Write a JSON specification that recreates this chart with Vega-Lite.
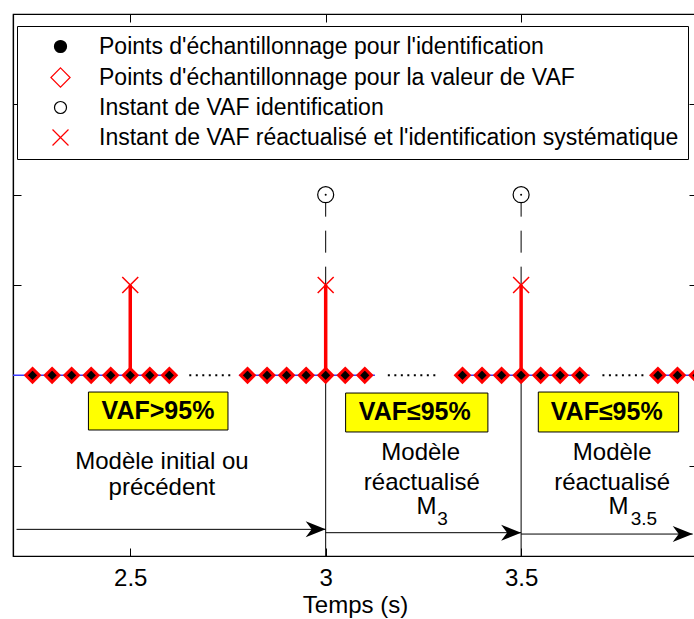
{
  "$schema": "https://vega.github.io/schema/vega-lite/v6.json",
  "width": 684,
  "height": 542,
  "autosize": {"type": "none"},
  "padding": {"left": 13, "top": 14, "right": 0, "bottom": 63},
  "background": "white",
  "config": {
    "font": "Liberation Sans",
    "view": {"stroke": "black", "strokeWidth": 1.2},
    "axis": {"domainColor": "black", "tickColor": "black", "labelColor": "black", "titleColor": "black", "grid": false, "labelFont": "Liberation Sans", "titleFont": "Liberation Sans", "labelFontSize": 24, "titleFontSize": 24, "titleFontWeight": "normal", "domainWidth": 1.2, "tickWidth": 1},
    "legend": {
      "orient": "none", "legendX": 4, "legendY": 12, "padding": 9,
      "strokeColor": "black", "fillColor": "white",
      "symbolSize": 144, "symbolOffset": 23, "labelOffset": 27, "symbolStrokeWidth": 1.2,
      "labelFont": "Liberation Sans", "labelFontSize": 23, "labelColor": "black", "labelLimit": 0,
      "rowPadding": 6
    }
  },
  "datasets": {
    "blue": [
      {"t0": 2.2, "t1": 2.614}, {"t0": 2.778, "t1": 3.126}, {"t0": 3.332, "t1": 3.675}, {"t0": 3.836, "t1": 3.95}
    ],
    "dots": [
      {"t0": 2.651, "t1": 2.765}, {"t0": 3.159, "t1": 3.282}, {"t0": 3.708, "t1": 3.819}
    ],
    "pts": [
      {"t": 2.25, "y": 0, "serie": "Points d'échantillonnage pour l'identification"},
      {"t": 2.30, "y": 0, "serie": "Points d'échantillonnage pour l'identification"},
      {"t": 2.35, "y": 0, "serie": "Points d'échantillonnage pour l'identification"},
      {"t": 2.40, "y": 0, "serie": "Points d'échantillonnage pour l'identification"},
      {"t": 2.45, "y": 0, "serie": "Points d'échantillonnage pour l'identification"},
      {"t": 2.50, "y": 0, "serie": "Points d'échantillonnage pour l'identification"},
      {"t": 2.55, "y": 0, "serie": "Points d'échantillonnage pour l'identification"},
      {"t": 2.60, "y": 0, "serie": "Points d'échantillonnage pour l'identification"},
      {"t": 2.80, "y": 0, "serie": "Points d'échantillonnage pour l'identification"},
      {"t": 2.85, "y": 0, "serie": "Points d'échantillonnage pour l'identification"},
      {"t": 2.90, "y": 0, "serie": "Points d'échantillonnage pour l'identification"},
      {"t": 2.95, "y": 0, "serie": "Points d'échantillonnage pour l'identification"},
      {"t": 3.00, "y": 0, "serie": "Points d'échantillonnage pour l'identification"},
      {"t": 3.05, "y": 0, "serie": "Points d'échantillonnage pour l'identification"},
      {"t": 3.10, "y": 0, "serie": "Points d'échantillonnage pour l'identification"},
      {"t": 3.35, "y": 0, "serie": "Points d'échantillonnage pour l'identification"},
      {"t": 3.40, "y": 0, "serie": "Points d'échantillonnage pour l'identification"},
      {"t": 3.45, "y": 0, "serie": "Points d'échantillonnage pour l'identification"},
      {"t": 3.50, "y": 0, "serie": "Points d'échantillonnage pour l'identification"},
      {"t": 3.55, "y": 0, "serie": "Points d'échantillonnage pour l'identification"},
      {"t": 3.60, "y": 0, "serie": "Points d'échantillonnage pour l'identification"},
      {"t": 3.65, "y": 0, "serie": "Points d'échantillonnage pour l'identification"},
      {"t": 3.85, "y": 0, "serie": "Points d'échantillonnage pour l'identification"},
      {"t": 3.90, "y": 0, "serie": "Points d'échantillonnage pour l'identification"},
      {"t": 3.95, "y": 0, "serie": "Points d'échantillonnage pour l'identification"},
      {"t": 2.25, "y": 0, "serie": "Points d'échantillonnage pour la valeur de VAF"},
      {"t": 2.30, "y": 0, "serie": "Points d'échantillonnage pour la valeur de VAF"},
      {"t": 2.35, "y": 0, "serie": "Points d'échantillonnage pour la valeur de VAF"},
      {"t": 2.40, "y": 0, "serie": "Points d'échantillonnage pour la valeur de VAF"},
      {"t": 2.45, "y": 0, "serie": "Points d'échantillonnage pour la valeur de VAF"},
      {"t": 2.50, "y": 0, "serie": "Points d'échantillonnage pour la valeur de VAF"},
      {"t": 2.55, "y": 0, "serie": "Points d'échantillonnage pour la valeur de VAF"},
      {"t": 2.60, "y": 0, "serie": "Points d'échantillonnage pour la valeur de VAF"},
      {"t": 2.80, "y": 0, "serie": "Points d'échantillonnage pour la valeur de VAF"},
      {"t": 2.85, "y": 0, "serie": "Points d'échantillonnage pour la valeur de VAF"},
      {"t": 2.90, "y": 0, "serie": "Points d'échantillonnage pour la valeur de VAF"},
      {"t": 2.95, "y": 0, "serie": "Points d'échantillonnage pour la valeur de VAF"},
      {"t": 3.00, "y": 0, "serie": "Points d'échantillonnage pour la valeur de VAF"},
      {"t": 3.05, "y": 0, "serie": "Points d'échantillonnage pour la valeur de VAF"},
      {"t": 3.10, "y": 0, "serie": "Points d'échantillonnage pour la valeur de VAF"},
      {"t": 3.35, "y": 0, "serie": "Points d'échantillonnage pour la valeur de VAF"},
      {"t": 3.40, "y": 0, "serie": "Points d'échantillonnage pour la valeur de VAF"},
      {"t": 3.45, "y": 0, "serie": "Points d'échantillonnage pour la valeur de VAF"},
      {"t": 3.50, "y": 0, "serie": "Points d'échantillonnage pour la valeur de VAF"},
      {"t": 3.55, "y": 0, "serie": "Points d'échantillonnage pour la valeur de VAF"},
      {"t": 3.60, "y": 0, "serie": "Points d'échantillonnage pour la valeur de VAF"},
      {"t": 3.65, "y": 0, "serie": "Points d'échantillonnage pour la valeur de VAF"},
      {"t": 3.85, "y": 0, "serie": "Points d'échantillonnage pour la valeur de VAF"},
      {"t": 3.90, "y": 0, "serie": "Points d'échantillonnage pour la valeur de VAF"},
      {"t": 3.95, "y": 0, "serie": "Points d'échantillonnage pour la valeur de VAF"},
      {"t": 3.0, "y": 2, "serie": "Instant de VAF identification"},
      {"t": 3.5, "y": 2, "serie": "Instant de VAF identification"},
      {"t": 2.5, "y": 1, "serie": "Instant de VAF réactualisé et l'identification systématique"},
      {"t": 3.0, "y": 1, "serie": "Instant de VAF réactualisé et l'identification systématique"},
      {"t": 3.5, "y": 1, "serie": "Instant de VAF réactualisé et l'identification systématique"}
    ],
    "boxes": [
      {"x0": 2.393, "x1": 2.750, "y0": -0.185, "y1": -0.605, "tc": 2.571, "yc": -0.40, "label": "VAF>95%"},
      {"x0": 3.051, "x1": 3.415, "y0": -0.196, "y1": -0.627, "tc": 3.228, "yc": -0.41, "label": "VAF≤95%"},
      {"x0": 3.544, "x1": 3.903, "y0": -0.185, "y1": -0.627, "tc": 3.719, "yc": -0.41, "label": "VAF≤95%"}
    ],
    "notes": [
      {"t": 2.581, "y": -0.957, "label": "Modèle initial ou", "kind": "main"},
      {"t": 2.581, "y": -1.248, "label": "précédent", "kind": "main"},
      {"t": 3.243, "y": -0.86, "label": "Modèle", "kind": "main"},
      {"t": 3.246, "y": -1.192, "label": "réactualisé", "kind": "main"},
      {"t": 3.258, "y": -1.457, "label": "M", "kind": "main"},
      {"t": 3.733, "y": -0.86, "label": "Modèle", "kind": "main"},
      {"t": 3.733, "y": -1.192, "label": "réactualisé", "kind": "main"},
      {"t": 3.749, "y": -1.457, "label": "M", "kind": "main"},
      {"t": 3.299, "y": -1.59, "label": "3", "kind": "sub"},
      {"t": 3.814, "y": -1.59, "label": "3.5", "kind": "sub"}
    ],
    "arrows": [
      {"t0": 2.209, "t1": 3.0, "y": -1.705},
      {"t0": 3.0, "t1": 3.5, "y": -1.742},
      {"t0": 3.5, "t1": 3.939, "y": -1.757}
    ]
  },
  "layer": [
    {
      "data": {"name": "blue"},
      "mark": {"type": "rule", "color": "#3b3bff", "strokeWidth": 1.5},
      "encoding": {
        "x": {"field": "t0", "type": "quantitative", "scale": {"domain": [2.2, 3.95], "nice": false, "zero": false},
              "axis": {"orient": "bottom", "values": [2.5, 3, 3.5], "format": "~g", "tickSize": -8, "labelPadding": 18, "title": "Temps (s)", "titlePadding": 3}},
        "x2": {"field": "t1"},
        "y": {"datum": 0, "type": "quantitative", "scale": {"domain": [-2, 4], "nice": false, "zero": false},
              "axis": {"orient": "left", "values": [-2, -1, 0, 1, 2, 3, 4], "labels": false, "tickSize": -8, "title": null}}
      }
    },
    {
      "data": {"name": "dots"},
      "mark": {"type": "rule", "color": "black", "strokeWidth": 2, "strokeDash": [2, 4.5]},
      "encoding": {
        "x": {"field": "t0", "type": "quantitative",
              "axis": {"orient": "top", "values": [2.5, 3, 3.5], "labels": false, "tickSize": -8, "title": null}},
        "x2": {"field": "t1"},
        "y": {"datum": 0, "type": "quantitative",
              "axis": {"orient": "right", "values": [-2, -1, 0, 1, 2, 3, 4], "labels": false, "tickSize": -8, "title": null}}
      }
    },
    {
      "data": {"name": "pts"},
      "transform": [{"filter": "datum.serie == 'Instant de VAF identification'"}],
      "mark": {"type": "rule", "color": "black", "strokeWidth": 1, "strokeDash": [22, 14]},
      "encoding": {
        "x": {"field": "t", "type": "quantitative", "axis": null},
        "y": {"field": "y", "type": "quantitative", "axis": null},
        "y2": {"datum": 0}
      }
    },
    {
      "data": {"name": "pts"},
      "transform": [{"filter": "datum.serie == 'Instant de VAF identification'"}],
      "mark": {"type": "rule", "color": "black", "strokeWidth": 1},
      "encoding": {
        "x": {"field": "t", "type": "quantitative", "axis": null},
        "y": {"datum": 0, "type": "quantitative", "axis": null},
        "y2": {"datum": -2}
      }
    },
    {
      "data": {"name": "pts"},
      "transform": [{"filter": "datum.serie == 'Instant de VAF réactualisé et l\\'identification systématique'"}],
      "mark": {"type": "rule", "color": "red", "strokeWidth": 3.5},
      "encoding": {
        "x": {"field": "t", "type": "quantitative", "axis": null},
        "y": {"field": "y", "type": "quantitative", "axis": null},
        "y2": {"datum": 0}
      }
    },
    {
      "data": {"name": "boxes"},
      "mark": {"type": "rect", "fill": "#ffff00", "stroke": "black", "strokeWidth": 1},
      "encoding": {
        "x": {"field": "x0", "type": "quantitative", "axis": null},
        "x2": {"field": "x1"},
        "y": {"field": "y0", "type": "quantitative", "axis": null},
        "y2": {"field": "y1"}
      }
    },
    {
      "data": {"name": "boxes"},
      "mark": {"type": "text", "font": "Liberation Sans", "fontWeight": "bold", "fontSize": 25, "color": "black", "baseline": "middle", "align": "center"},
      "encoding": {
        "x": {"field": "tc", "type": "quantitative", "axis": null},
        "y": {"field": "yc", "type": "quantitative", "axis": null},
        "text": {"field": "label"}
      }
    },
    {
      "data": {"name": "notes"},
      "transform": [{"filter": "datum.kind == 'main'"}],
      "mark": {"type": "text", "font": "Liberation Sans", "fontSize": 24, "color": "black", "baseline": "middle", "align": "center"},
      "encoding": {
        "x": {"field": "t", "type": "quantitative", "axis": null},
        "y": {"field": "y", "type": "quantitative", "axis": null},
        "text": {"field": "label"}
      }
    },
    {
      "data": {"name": "notes"},
      "transform": [{"filter": "datum.kind == 'sub'"}],
      "mark": {"type": "text", "font": "Liberation Sans", "fontSize": 19, "color": "black", "baseline": "middle", "align": "center"},
      "encoding": {
        "x": {"field": "t", "type": "quantitative", "axis": null},
        "y": {"field": "y", "type": "quantitative", "axis": null},
        "text": {"field": "label"}
      }
    },
    {
      "data": {"name": "arrows"},
      "mark": {"type": "rule", "color": "black", "strokeWidth": 1},
      "encoding": {
        "x": {"field": "t0", "type": "quantitative", "axis": null},
        "x2": {"field": "t1"},
        "y": {"field": "y", "type": "quantitative", "axis": null}
      }
    },
    {
      "data": {"name": "arrows"},
      "mark": {"type": "point", "shape": "M0,0L-2,-0.8L-1.4,0L-2,0.8Z", "filled": true, "color": "black", "size": 400, "opacity": 1},
      "encoding": {
        "x": {"field": "t1", "type": "quantitative", "axis": null},
        "y": {"field": "y", "type": "quantitative", "axis": null}
      }
    },
    {
      "data": {"name": "pts"},
      "transform": [{"filter": "datum.serie == 'Points d\\'échantillonnage pour l\\'identification'"}],
      "mark": {"type": "point", "opacity": 1, "size": 100, "strokeWidth": 0.5},
      "encoding": {
        "x": {"field": "t", "type": "quantitative", "axis": null},
        "y": {"field": "y", "type": "quantitative", "axis": null},
        "shape": {"field": "serie", "type": "nominal", "title": null,
                  "legend": {"orient": "none", "legendX": 4, "legendY": 12, "padding": 9, "strokeColor": "black", "fillColor": "white", "symbolSize": 144, "symbolOffset": 23, "labelOffset": 27, "symbolStrokeWidth": 1.2, "labelFontSize": 23, "labelLimit": 0, "rowPadding": 6},
                  "scale": {"domain": ["Points d'échantillonnage pour l'identification", "Points d'échantillonnage pour la valeur de VAF", "Instant de VAF identification", "Instant de VAF réactualisé et l'identification systématique"],
                            "range": ["circle", "M0,-1.6L1.6,0L0,1.6L-1.6,0Z", "circle", "M-1.33,-1.33L1.33,1.33M-1.33,1.33L1.33,-1.33"]}},
        "fill": {"field": "serie", "type": "nominal", "title": null,
                 "scale": {"domain": ["Points d'échantillonnage pour l'identification", "Points d'échantillonnage pour la valeur de VAF", "Instant de VAF identification", "Instant de VAF réactualisé et l'identification systématique"],
                           "range": ["black", "transparent", "white", "transparent"]}},
        "stroke": {"field": "serie", "type": "nominal", "title": null,
                   "scale": {"domain": ["Points d'échantillonnage pour l'identification", "Points d'échantillonnage pour la valeur de VAF", "Instant de VAF identification", "Instant de VAF réactualisé et l'identification systématique"],
                             "range": ["black", "red", "black", "red"]}}
      }
    },
    {
      "data": {"name": "pts"},
      "transform": [{"filter": "datum.serie == 'Points d\\'échantillonnage pour la valeur de VAF'"}],
      "mark": {"type": "point", "opacity": 1, "size": 72, "strokeWidth": 3},
      "encoding": {
        "x": {"field": "t", "type": "quantitative", "axis": null},
        "y": {"field": "y", "type": "quantitative", "axis": null},
        "shape": {"field": "serie", "type": "nominal", "title": null},
        "fill": {"field": "serie", "type": "nominal", "title": null},
        "stroke": {"field": "serie", "type": "nominal", "title": null}
      }
    },
    {
      "data": {"name": "pts"},
      "transform": [{"filter": "datum.serie == 'Instant de VAF identification'"}],
      "mark": {"type": "point", "opacity": 1, "size": 256, "strokeWidth": 1.2},
      "encoding": {
        "x": {"field": "t", "type": "quantitative", "axis": null},
        "y": {"field": "y", "type": "quantitative", "axis": null},
        "shape": {"field": "serie", "type": "nominal", "title": null},
        "fill": {"field": "serie", "type": "nominal", "title": null},
        "stroke": {"field": "serie", "type": "nominal", "title": null}
      }
    },
    {
      "data": {"name": "pts"},
      "transform": [{"filter": "datum.serie == 'Instant de VAF réactualisé et l\\'identification systématique'"}],
      "mark": {"type": "point", "opacity": 1, "size": 144, "strokeWidth": 1.5},
      "encoding": {
        "x": {"field": "t", "type": "quantitative", "axis": null},
        "y": {"field": "y", "type": "quantitative", "axis": null},
        "shape": {"field": "serie", "type": "nominal", "title": null},
        "fill": {"field": "serie", "type": "nominal", "title": null},
        "stroke": {"field": "serie", "type": "nominal", "title": null}
      }
    },
    {
      "data": {"name": "pts"},
      "transform": [{"filter": "datum.serie == 'Instant de VAF identification'"}],
      "mark": {"type": "point", "filled": true, "color": "black", "size": 4, "opacity": 1},
      "encoding": {
        "x": {"field": "t", "type": "quantitative", "axis": null},
        "y": {"field": "y", "type": "quantitative", "axis": null}
      }
    }
  ]
}
